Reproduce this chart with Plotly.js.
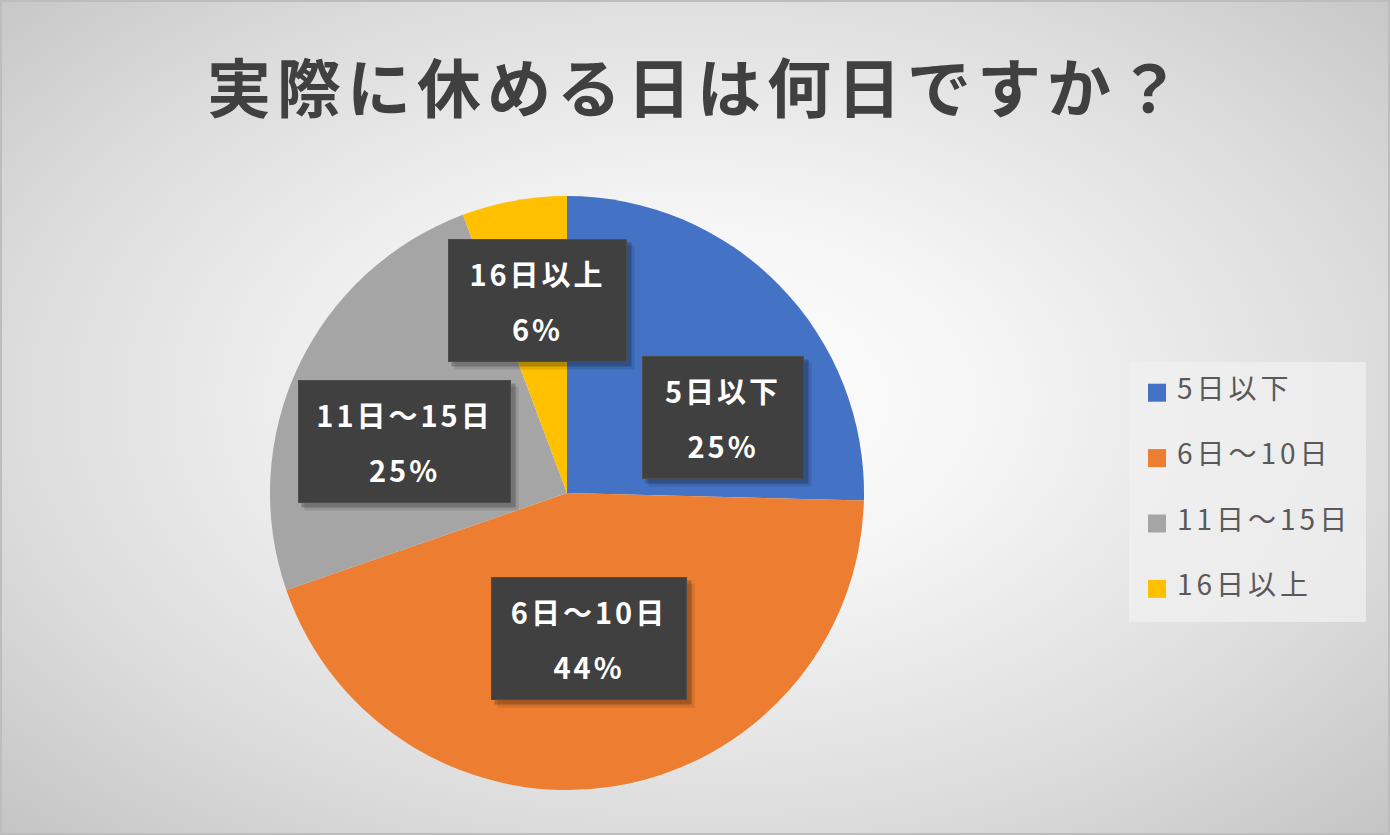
<!DOCTYPE html>
<html>
<head>
<meta charset="utf-8">
<script src="https://cdn.plot.ly/plotly-3.0.1.min.js"></script>
<style>
  html, body { margin: 0; padding: 0; }
  #chart {
    width: 1390px; height: 835px;
    background: radial-gradient(ellipse farthest-corner at 50% 48%, #ffffff 0%, #f5f5f5 30%, #dcdcdc 70%, #c4c4c4 100%);
    box-shadow: inset 0 0 0 2px #bdbdbd;
  }
  /* Excel spaces its CJK text wider than Plotly does (unscoped so Plotly's measuring copy gets it too) */
  .gtitle { letter-spacing: 6px; }
  .annotation-text { letter-spacing: 3px; }
  .legendtext { letter-spacing: 4px; }
  path.legendpie { transform: translate(20px, 0px) scale(1.5); }
</style>
</head>
<body>
<div id="chart"></div>
<script>
// ── 実際に休める日は何日ですか？ ──────────────────────────────────────────────
const categories = ['5日以下', '6日〜10日', '11日〜15日', '16日以上'];
const shares     = [25.4, 44.3, 24.6, 5.7];
const colors     = ['#4472C4', '#ED7D31', '#A5A5A5', '#FFC000'];

// label placement (fraction of radius, turn from slice bisector in degrees)
const labelRadius = [0.583, 0.497, 0.575, 0.655];
const labelTurn   = [18.6, 0.2, -7.8, 1.4];

const W = 1390, H = 835, CX = 567, CY = 493, R = 297;
const FONT = '"Noto Sans CJK JP", "Noto Sans", sans-serif';

const total = shares.reduce((a, b) => a + b, 0);

// legend text: pad above/below so every entry gets Excel-like spacing
const legendLabels = categories.map(c =>
  '\u00a0<br><span style="font-size:28px">' + c + '</span><br>\u00a0');

const boxWidth = s => {
  const digits = (s.match(/[0-9%]/g) || []).length;
  return digits * 17 + (s.length - digits) * 33 + 46;
};

const annotations = [];
let cum = 0;
categories.forEach((c, i) => {
  const mid = (cum + shares[i] / 2) / total * 360 + labelTurn[i];
  cum += shares[i];
  const th = mid * Math.PI / 180;
  const px = CX + labelRadius[i] * R * Math.sin(th);
  const py = CY - labelRadius[i] * R * Math.cos(th);
  const x = px / W, y = 1 - py / H;
  const w = boxWidth(c), h = 123;
  [[7, 0.10], [4, 0.22]].forEach(([d, a]) => annotations.push({
    xref: 'paper', yref: 'paper', x, y, xanchor: 'center', yanchor: 'middle',
    xshift: d, yshift: -d, showarrow: false, text: '\u00a0',
    width: w, height: h, borderpad: 0, bgcolor: `rgba(0,0,0,${a})`
  }));
  const pct = Math.round(shares[i] / total * 100) + '%';
  annotations.push({
    xref: 'paper', yref: 'paper', x, y, xanchor: 'center', yanchor: 'middle',
    showarrow: false,
    text: `<span style="font-size:29px">${c}</span><br><span style="font-size:29px">${pct}</span>`,
    font: { family: FONT, size: 43, color: '#ffffff', weight: 'bold' },
    width: w - 2, height: h - 2, borderpad: 0, borderwidth: 1,
    bgcolor: '#404040', bordercolor: '#4c4c4c'
  });
});

const trace = {
  type: 'pie',
  labels: legendLabels,
  values: shares,
  sort: false,
  direction: 'clockwise',
  rotation: 0,
  textinfo: 'none',
  hoverinfo: 'skip',
  marker: { colors: colors, line: { width: 0 } },
  domain: { x: [(CX - R) / W, (CX + R) / W], y: [1 - (CY + R) / H, 1 - (CY - R) / H] }
};

const layout = {
  width: W, height: H,
  margin: { l: 0, r: 0, t: 0, b: 0 },
  paper_bgcolor: 'rgba(0,0,0,0)',
  plot_bgcolor: 'rgba(0,0,0,0)',
  font: { family: FONT, color: '#595959' },
  title: {
    text: '実際に休める日は何日ですか？',
    x: 697 / W, xanchor: 'center', y: 1 - 90 / H, yanchor: 'middle',
    font: { family: FONT, size: 64, color: '#404040', weight: 'bold' }
  },
  showlegend: true,
  legend: {
    x: 1137 / W, xanchor: 'left', y: 1 - 355 / H, yanchor: 'top',
    bgcolor: 'rgba(0,0,0,0)', borderwidth: 0,
    font: { family: FONT, size: 16, color: '#595959' }
  },
  shapes: [{
    type: 'rect', xref: 'paper', yref: 'paper', layer: 'below',
    x0: 1129 / W, x1: 1366 / W, y0: 1 - 622 / H, y1: 1 - 362 / H,
    fillcolor: 'rgba(240,240,240,0.75)', line: { width: 0 }
  }],
  annotations: annotations
};

Plotly.newPlot('chart', [trace], layout, { displayModeBar: false, staticPlot: true });
</script>
</body>
</html>
